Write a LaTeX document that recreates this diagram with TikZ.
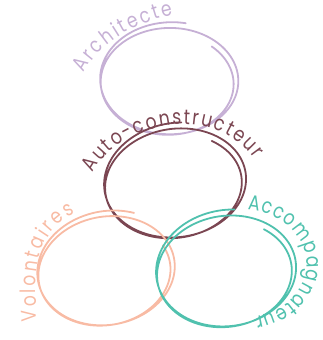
\documentclass[tikz,border=0pt]{standalone}
\usepackage{fontspec}
\setmainfont{Poppins}[FakeStretch=0.82]
\usetikzlibrary{decorations.text}
\definecolor{archc}{HTML}{C6B0D5}
\definecolor{autoc}{HTML}{7B4652}
\definecolor{volc}{HTML}{F8BBA4}
\definecolor{accc}{HTML}{50C1AE}
\tikzset{
  sketch/.style={line width=1.8pt, line cap=round, line join=round},
  loopplot/.style={smooth, domain=0:1, samples=220, variable=\s},
}
\begin{document}
\fontsize{21}{22}\selectfont
\begin{tikzpicture}[x=1pt,y=-1pt]
\useasboundingbox (0,0) rectangle (323,340);

% Architecte loop
\draw[sketch, archc] plot[loopplot]
  ({171-4*\s+(71-5*\s)*cos(-78-690*\s)},{78+6*\s+(56-5*\s)*sin(-78-690*\s)});

% Auto-constructeur loop
\begin{scope}[rotate around={8:(175,183)}]
\draw[sketch, autoc] plot[loopplot]
  ({177-4*\s+(73-5*\s)*cos(-80-690*\s)},{180+6*\s+(57-5*\s)*sin(-80-690*\s)});
\end{scope}

% Volontaires loop
\begin{scope}[rotate around={10:(106,270)}]
\draw[sketch, volc] plot[loopplot]
  ({108-4*\s+(71-5*\s)*cos(-60-680*\s)},{268+5*\s+(57-5*\s)*sin(-60-680*\s)});
\end{scope}

% Accompagnateur loop
\begin{scope}[rotate around={8:(226,271)}]
\draw[sketch, accc] plot[loopplot]
  ({228-4*\s+(72-5*\s)*cos(-78-690*\s)},{268+6*\s+(58-5*\s)*sin(-78-690*\s)});
\end{scope}

% Labels
\path[decorate, decoration={text along path, text align={fit to path},
  text={|\color{archc}|Architecte}}]
  (84,73) .. controls (100,40) and (140,22) .. (173,15);

\path[decorate, decoration={text along path, text align={fit to path},
  text={|\color{autoc}|Auto-constructeur}}]
  (93,173) .. controls (118,122) and (215,102) .. (254,159);

\path[decorate, decoration={text along path, text align={fit to path},
  text={|\color{volc}|Volontaires}}]
  (37,321) .. controls (34,270) and (34,235) .. (75,213);

\path[decorate, decoration={text along path, text align={fit to path},
  text={|\color{accc}|Accompagnateur}}]
  (247.7,210.2) arc[start angle=85, end angle=-78.5, x radius=65pt, y radius=54pt];
\end{tikzpicture}
\end{document}
